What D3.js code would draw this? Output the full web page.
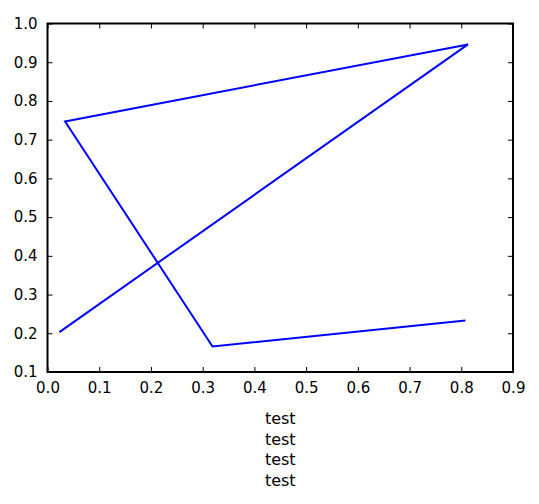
<!DOCTYPE html>
<html><head><meta charset="utf-8">
<script src="https://cdn.jsdelivr.net/npm/d3@7"></script>
<style>body{margin:0;background:#fff}svg{display:block}text{font-family:"DejaVu Sans",sans-serif;}</style>
</head><body>
<svg id="c" width="539" height="504"></svg>
<script>
const xs = [0.023, 0.813, 0.034, 0.319, 0.808];
const ys = [0.203, 0.946, 0.747, 0.166, 0.233];
const xTicks = [0.0,0.1,0.2,0.3,0.4,0.5,0.6,0.7,0.8,0.9];
const yTicks = [0.1,0.2,0.3,0.4,0.5,0.6,0.7,0.8,0.9,1.0];
const xLabelLines = ["test","test","test","test"];

const L=47.5, R=513, T=23.5, B=372;
const svg=d3.select("#c");
const x=d3.scaleLinear().domain([0,0.9]).range([L,R]);
const y=d3.scaleLinear().domain([0.1,1.0]).range([B,T]);
const fs=15;

const line=d3.line().x((d,i)=>x(xs[i])).y((d,i)=>y(ys[i]));
svg.append("path").datum(xs).attr("d",line).attr("fill","none").attr("stroke","#0000ff").attr("stroke-width",2).attr("stroke-linejoin","miter");

// axes with inward ticks
const fmt=d3.format(".1f");
const gb=svg.append("g").attr("transform",`translate(0,${B})`).call(d3.axisBottom(x).tickValues(xTicks).tickFormat(fmt).tickSize(-5).tickPadding(10));
const gt=svg.append("g").attr("transform",`translate(0,${T})`).call(d3.axisTop(x).tickValues(xTicks).tickFormat("").tickSize(-5));
const gl=svg.append("g").attr("transform",`translate(${L},0)`).call(d3.axisLeft(y).tickValues(yTicks).tickFormat(fmt).tickSize(-5).tickPadding(10));
const gr=svg.append("g").attr("transform",`translate(${R},0)`).call(d3.axisRight(y).tickValues(yTicks).tickFormat("").tickSize(-5));
[gb,gt,gl,gr].forEach(g=>{
  g.select(".domain").remove();
  g.selectAll(".tick line").attr("stroke","#000").attr("stroke-width",1);
  g.selectAll("text").attr("font-family","DejaVu Sans").attr("font-size",fs).attr("fill","#000");
});
svg.append("rect").attr("x",L).attr("y",T).attr("width",R-L).attr("height",B-T).attr("fill","none").attr("stroke","#000").attr("stroke-width",2);

const xl=svg.append("text").attr("x",(L+R)/2).attr("text-anchor","middle").attr("font-size",16).attr("fill","#000");
xLabelLines.forEach((t,i)=>xl.append("tspan").attr("x",(L+R)/2).attr("y",424+i*20.7).text(t));
</script>
</body></html>
